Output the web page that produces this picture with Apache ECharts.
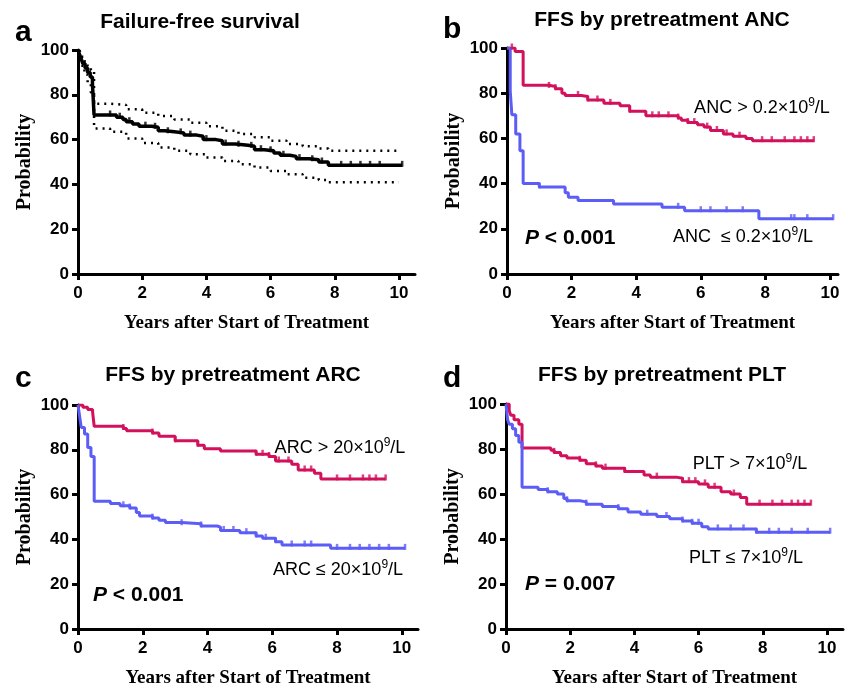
<!DOCTYPE html>
<html>
<head>
<meta charset="utf-8">
<script src="https://cdn.jsdelivr.net/npm/echarts@6/dist/echarts.min.js"></script>
<style>
  html, body { margin: 0; padding: 0; background: #fff; }
  #chart { width: 850px; height: 689px; }
</style>
</head>
<body>
<div id="chart"></div>
<script>
// ---- data ----
var yTicks = [0, 20, 40, 60, 80, 100];
var xTicks = [0, 2, 4, 6, 8, 10];
var xName = 'Years after Start of Treatment';
var yName = 'Probability';

// panel a: overall FFS with 95% CI
var allT = [0, 0.05, 0.1, 0.15, 0.22, 0.3, 0.38, 0.45, 0.5, 1.2, 1.4, 1.5, 1.7, 1.9, 2.3, 2.5, 2.7, 3.0, 3.3, 3.7, 3.9, 4.3, 4.5, 4.9, 5.3, 5.5, 5.8, 6.1, 6.3, 6.6, 6.8, 7.2, 7.5, 7.8, 10.1];
var allV = [100, 98, 96, 94, 92, 90, 88, 85, 71, 70, 69, 68, 67, 66, 65.5, 64, 63.5, 63, 62, 61.5, 60, 59.5, 58, 57.5, 57, 55.5, 55, 54, 53, 52.5, 51.5, 51, 50, 48.5, 48.5];
var allCensor = [1.0, 1.3, 1.6, 2.1, 2.4, 2.8, 3.2, 3.5, 4.0, 4.6, 5.0, 5.4, 5.7, 6.0, 6.4, 6.9, 7.3, 7.6, 8.2, 8.5, 8.8, 9.1, 9.4, 10.1];
var ciHiT = [0.05, 0.1, 0.2, 0.3, 0.4, 0.5, 1.0, 1.5, 2.0, 2.5, 3.0, 3.5, 4.0, 4.5, 5.0, 5.5, 6.0, 6.5, 7.0, 7.5, 7.8, 10.0];
var ciHiV = [100, 97, 95, 93, 91, 76, 75.5, 73.5, 72, 70.5, 69, 67.5, 66, 64, 62.5, 61, 59.5, 58, 57, 56, 55, 55];
var ciLoT = [0.05, 0.1, 0.2, 0.3, 0.4, 0.5, 1.0, 1.5, 2.0, 2.5, 3.0, 3.5, 4.0, 4.5, 5.0, 5.5, 6.0, 6.5, 7.0, 7.5, 7.8, 10.0];
var ciLoV = [96, 93, 89, 85, 81, 65, 63.5, 60.5, 58.5, 56.5, 55, 53.5, 52, 50.5, 49, 47.5, 46, 44.5, 43, 42, 41, 41];

// panel b: ANC
var ancHiT = [0, 0.25, 0.5, 1.3, 1.5, 1.7, 1.8, 2.3, 2.5, 3.0, 3.5, 3.8, 4.3, 5.3, 5.4, 5.6, 5.9, 6.1, 6.3, 6.7, 7.0, 7.4, 7.6, 9.5];
var ancHiV = [100, 98.5, 83.5, 83, 82, 80, 79, 78.5, 77, 75.5, 74.5, 72, 70, 69, 68, 67, 66, 65, 63.5, 62, 61, 60, 59, 59];
var ancHiCensor = [0.15, 1.3, 1.5, 2.2, 2.5, 2.8, 3.2, 3.8, 4.5, 4.7, 5.0, 5.3, 5.6, 5.8, 6.2, 6.5, 6.8, 7.2, 7.9, 8.2, 8.6, 8.9, 9.1, 9.3, 9.5];
var ancLoT = [0, 0.1, 0.15, 0.27, 0.4, 0.5, 1.0, 1.8, 1.9, 2.2, 3.3, 4.8, 5.5, 7.8, 10.1];
var ancLoV = [100, 81, 70.5, 62, 54.5, 40, 38.5, 36, 34, 32.5, 31, 29.5, 28, 24.5, 24.5];
var ancLoCensor = [1.0, 5.3, 6.0, 6.3, 6.8, 7.3, 8.8, 8.9, 9.3, 10.1];

// panel c: ARC
var arcHiT = [0, 0.15, 0.3, 0.45, 0.5, 1.4, 1.5, 2.3, 2.5, 3.0, 3.7, 3.9, 4.4, 5.5, 5.9, 6.1, 6.6, 6.8, 7.3, 7.5, 9.5];
var arcHiV = [100, 99, 98, 97, 90.5, 89.5, 88.5, 87.5, 86, 84, 82, 80.5, 79.5, 78, 77, 75, 73.5, 71, 69.5, 67, 67];
var arcHiCensor = [1.4, 2.3, 3.0, 3.7, 5.5, 5.7, 5.9, 6.2, 6.5, 7.0, 7.2, 8.0, 8.4, 8.8, 9.0, 9.2, 9.5];
var arcLoT = [0, 0.05, 0.1, 0.2, 0.3, 0.4, 0.5, 1.0, 1.3, 1.6, 1.8, 1.9, 2.3, 2.5, 2.7, 3.2, 3.8, 4.3, 4.4, 5.0, 5.5, 5.7, 6.1, 6.3, 7.8, 10.1];
var arcLoV = [100, 95, 90, 87, 81, 77, 57, 56, 55, 54, 52, 50.5, 49.5, 48.5, 47.5, 47, 46, 45.5, 44, 43, 41.5, 40.5, 39, 37.5, 36, 36];
var arcLoCensor = [1.4, 1.6, 2.3, 3.2, 3.8, 4.5, 4.8, 5.2, 5.5, 5.8, 6.1, 6.6, 7.0, 7.2, 8.0, 8.4, 8.7, 9.0, 9.3, 9.6, 10.1];

// panel d: PLT
var pltHiT = [0, 0.1, 0.15, 0.25, 0.4, 0.5, 1.4, 1.5, 1.7, 1.9, 2.3, 2.5, 2.8, 3.0, 3.7, 4.3, 4.5, 5.3, 5.5, 6.0, 6.3, 6.7, 7.0, 7.3, 7.5, 9.5];
var pltHiV = [100, 97, 95, 93, 91, 80.5, 79.5, 78.5, 77, 76, 75, 73.5, 72.5, 71.5, 70, 68.5, 67.5, 67, 65.5, 64.5, 63, 61, 60, 58.5, 55.5, 55.5];
var pltHiCensor = [1.5, 2.3, 2.8, 3.1, 3.7, 4.7, 5.5, 5.7, 5.9, 6.2, 6.5, 7.1, 7.9, 8.3, 8.6, 8.9, 9.1, 9.3, 9.5];
var pltLoT = [0, 0.05, 0.1, 0.2, 0.3, 0.4, 0.5, 1.0, 1.3, 1.6, 1.8, 1.9, 2.3, 2.5, 3.0, 3.5, 3.8, 4.2, 4.7, 5.1, 5.5, 5.8, 6.1, 6.3, 7.8, 10.1];
var pltLoV = [100, 93, 91, 89, 86, 83, 63, 62, 61, 60, 58, 57, 56.5, 55.5, 54.5, 53.5, 52, 51, 50, 49, 48, 47, 45.5, 44.5, 43, 43];
var pltLoCensor = [1.3, 1.9, 2.5, 3.5, 4.4, 5.0, 5.5, 5.8, 6.0, 6.6, 7.0, 7.4, 7.8, 8.2, 8.5, 8.9, 9.4, 10.1];

// ---- helpers ----
var PINK = '#d2105c';
var BLUE = '#5c5cf6';
var SANS = '"Liberation Sans", Arial, sans-serif';
var SERIF = '"Liberation Serif", "Times New Roman", serif';

function pairs(ts, vs) {
    return ts.map(function (t, i) { return [t, vs[i]]; });
}
function survAt(ts, vs, t) {
    var v = vs[0];
    for (var i = 0; i < ts.length; i++) { if (ts[i] <= t) v = vs[i]; }
    return v;
}
function censorPts(ts, vs, cs) {
    return cs.map(function (c) { return [c, survAt(ts, vs, c)]; });
}

var panels = [
    {left: 78, top: 50, width: 337, height: 224, max: 10.5},
    {left: 507, top: 48, width: 331, height: 226, max: 10.25},
    {left: 78, top: 405, width: 340, height: 226, max: 10.5},
    {left: 506, top: 404, width: 337, height: 225, max: 10.5}
];

var grids = [], xAxes = [], yAxes = [], series = [];
panels.forEach(function (p, i) {
    grids.push({left: p.left, top: p.top, width: p.width, height: p.height});
    xAxes.push({
        type: 'value', gridIndex: i, min: 0, max: p.max,
        name: xName, nameLocation: 'middle', nameGap: 40,
        nameTextStyle: {fontFamily: SERIF, fontWeight: 'bold', fontSize: 19, color: '#000'},
        axisLine: {onZero: false, lineStyle: {color: '#000', width: 3}},
        axisTick: {customValues: xTicks, length: 6, lineStyle: {color: '#000', width: 3}},
        axisLabel: {customValues: xTicks, margin: 11, fontFamily: SANS, fontWeight: 'bold', fontSize: 17, color: '#000'},
        splitLine: {show: false}
    });
    yAxes.push({
        type: 'value', gridIndex: i, min: 0, max: 100, interval: 20,
        name: yName, nameLocation: 'middle', nameGap: 43,
        nameTextStyle: {fontFamily: SERIF, fontWeight: 'bold', fontSize: 20, color: '#000'},
        axisLine: {show: true, lineStyle: {color: '#000', width: 3}},
        axisTick: {show: true, length: 6, lineStyle: {color: '#000', width: 3}},
        axisLabel: {margin: 9, fontFamily: SANS, fontWeight: 'bold', fontSize: 17, color: '#000'},
        splitLine: {show: false}
    });
});

function km(i, ts, vs, cs, color, w) {
    series.push({
        type: 'line', xAxisIndex: i, yAxisIndex: i, step: 'end', symbol: 'none',
        data: pairs(ts, vs), lineStyle: {color: color, width: w}, z: 3
    });
    series.push({
        type: 'scatter', xAxisIndex: i, yAxisIndex: i, symbol: 'rect', symbolSize: [2.5, 6],
        symbolOffset: [0, -1.5],
        data: censorPts(ts, vs, cs), itemStyle: {color: color}, z: 4
    });
}
function ci(i, ts, vs) {
    series.push({
        type: 'line', xAxisIndex: i, yAxisIndex: i, step: 'end', symbol: 'none',
        data: pairs(ts, vs), lineStyle: {color: '#000', width: 2.5, type: [2, 5]}, z: 2
    });
}

km(0, allT, allV, allCensor, '#000', 3.5);
ci(0, ciHiT, ciHiV);
ci(0, ciLoT, ciLoV);
km(1, ancHiT, ancHiV, ancHiCensor, PINK, 3);
km(1, ancLoT, ancLoV, ancLoCensor, BLUE, 3);
km(2, arcHiT, arcHiV, arcHiCensor, PINK, 3);
km(2, arcLoT, arcLoV, arcLoCensor, BLUE, 3);
km(3, pltHiT, pltHiV, pltHiCensor, PINK, 3);
km(3, pltLoT, pltLoV, pltLoCensor, BLUE, 3);

// ---- text ----
var supRich = {
    n: {fontFamily: SANS, fontSize: 18, color: '#000', lineHeight: 22},
    s: {fontFamily: SANS, fontSize: 12, color: '#000', lineHeight: 22, padding: [0, 0, 10, 0]}
};
var pRich = {
    p: {fontFamily: SANS, fontSize: 21, fontWeight: 'bold', fontStyle: 'italic', color: '#000'},
    b: {fontFamily: SANS, fontSize: 21, fontWeight: 'bold', color: '#000'}
};
function txt(x, y, text, size, align) {
    return {type: 'text', x: x, y: y, style: {text: text, fontFamily: SANS, fontWeight: 'bold', fontSize: size,
        fill: '#000', align: align || 'center', verticalAlign: 'middle'}};
}
function rich(x, y, text, r, align) {
    return {type: 'text', x: x, y: y, style: {text: text, rich: r, align: align || 'center', verticalAlign: 'middle'}};
}

var graphics = [
    txt(15, 33, 'a', 30, 'left'),
    txt(443, 30, 'b', 30, 'left'),
    txt(15, 379, 'c', 30, 'left'),
    txt(443, 379, 'd', 30, 'left'),
    txt(200, 22, 'Failure-free survival', 21),
    txt(662, 20, 'FFS by pretreatment ANC', 21),
    txt(233, 375, 'FFS by pretreatment ARC', 21),
    txt(662, 375, 'FFS by pretreatment PLT', 21),
    rich(762, 108, '{n|ANC > 0.2×10}{s|9}{n|/L}', supRich),
    rich(743, 237, '{n|ANC  ≤ 0.2×10}{s|9}{n|/L}', supRich),
    rich(340, 448, '{n|ARC > 20×10}{s|9}{n|/L}', supRich),
    rich(338, 570, '{n|ARC ≤ 20×10}{s|9}{n|/L}', supRich),
    rich(750, 464, '{n|PLT > 7×10}{s|9}{n|/L}', supRich),
    rich(746, 558, '{n|PLT ≤ 7×10}{s|9}{n|/L}', supRich),
    rich(525, 238, '{p|P}{b| < 0.001}', pRich, 'left'),
    rich(93, 595, '{p|P}{b| < 0.001}', pRich, 'left'),
    rich(525, 584, '{p|P}{b| = 0.007}', pRich, 'left')
];

var chart = echarts.init(document.getElementById('chart'));
chart.setOption({
    backgroundColor: '#fff',
    animation: false,
    grid: grids,
    xAxis: xAxes,
    yAxis: yAxes,
    series: series,
    graphic: graphics
});
</script>
</body>
</html>
